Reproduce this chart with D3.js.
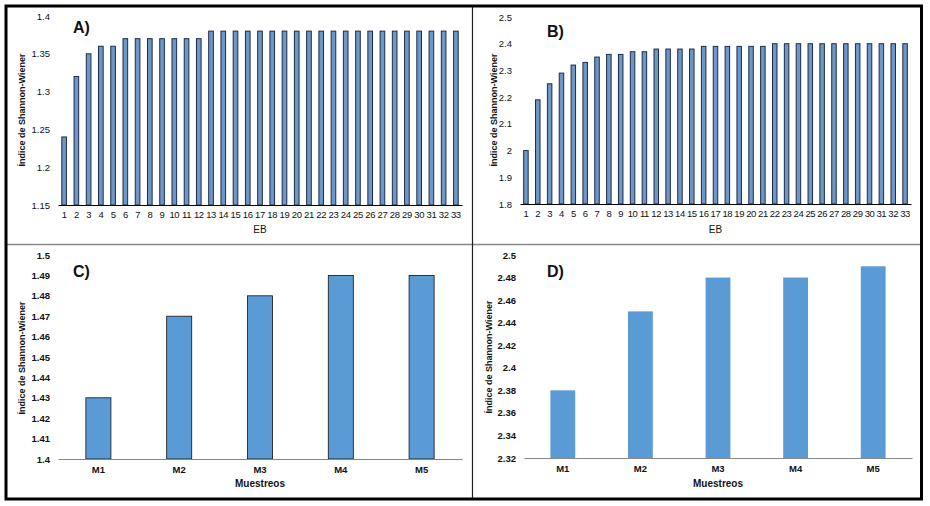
<!DOCTYPE html>
<html>
<head>
<meta charset="utf-8">
<script src="https://cdn.jsdelivr.net/npm/d3@7"></script>
<style>
  body { margin: 0; background: #fff; }
  svg text { font-family: Arial, "Liberation Sans", sans-serif; fill: #111; }
</style>
</head>
<body>
<svg id="drawing_region"></svg>
<script>
// ---- data ----
const ebCategories = d3.range(1, 34).map(String);
const valuesA = [1.24, 1.32, 1.35, 1.36, 1.36, 1.37, 1.37, 1.37, 1.37, 1.37, 1.37, 1.37,
                 1.38, 1.38, 1.38, 1.38, 1.38, 1.38, 1.38, 1.38, 1.38, 1.38, 1.38, 1.38,
                 1.38, 1.38, 1.38, 1.38, 1.38, 1.38, 1.38, 1.38, 1.38];
const valuesB = [2.00, 2.19, 2.25, 2.29, 2.32, 2.33, 2.35, 2.36, 2.36, 2.37, 2.37, 2.38,
                 2.38, 2.38, 2.38, 2.39, 2.39, 2.39, 2.39, 2.39, 2.39, 2.40, 2.40, 2.40,
                 2.40, 2.40, 2.40, 2.40, 2.40, 2.40, 2.40, 2.40, 2.40];
const muestreos = ["M1", "M2", "M3", "M4", "M5"];
const valuesC = [1.43, 1.47, 1.48, 1.49, 1.49];
const valuesD = [2.38, 2.45, 2.48, 2.48, 2.49];

const ticksA = [1.15, 1.2, 1.25, 1.3, 1.35, 1.4];
const ticksB = [1.8, 1.9, 2.0, 2.1, 2.2, 2.3, 2.4, 2.5];
const ticksC = [1.40, 1.41, 1.42, 1.43, 1.44, 1.45, 1.46, 1.47, 1.48, 1.49, 1.50];
const ticksD = [2.32, 2.34, 2.36, 2.38, 2.40, 2.42, 2.44, 2.46, 2.48, 2.50];

const yTitle = "Índice de Shannon-Wiener";

const svg = d3.select('#drawing_region')
    .attr('width', 930)
    .attr('height', 506);

// frame and dividers
svg.append('line').attr('x1', 7).attr('x2', 921).attr('y1', 244.5).attr('y2', 244.5)
    .attr('stroke', '#888').attr('stroke-width', 1.5);
svg.append('line').attr('x1', 472.5).attr('x2', 472.5).attr('y1', 7).attr('y2', 498)
    .attr('stroke', '#222').attr('stroke-width', 1.2);
svg.append('rect').attr('x', 6).attr('y', 6).attr('width', 915.5).attr('height', 493)
    .attr('fill', 'none').attr('stroke', '#000').attr('stroke-width', 3);

function fmt(d) { return String(+d.toFixed(2)); }

function drawPanel(p) {
    const g = svg.append('g');

    const x = d3.scaleBand()
        .domain(p.cats)
        .range([p.left, p.right])
        .padding(0);

    const y = d3.scaleLinear()
        .domain([p.ticks[0], p.ticks[p.ticks.length - 1]])
        .range([p.bottom, p.top]);

    const bw = x.bandwidth() * p.barFrac;

    g.selectAll('rect.bar')
        .data(p.values)
        .enter()
        .append('rect')
        .attr('class', 'bar')
        .attr('x', (d, i) => x(p.cats[i]) + (x.bandwidth() - bw) / 2)
        .attr('y', d => y(d))
        .attr('width', bw)
        .attr('height', d => p.bottom - y(d))
        .attr('fill', p.fill)
        .attr('stroke', p.stroke || 'none')
        .attr('stroke-width', p.strokeWidth || 0);

    // y axis: labels only
    const yAxis = g.append('g')
        .attr('transform', `translate(${p.left},0)`)
        .call(d3.axisLeft(y).tickValues(p.ticks).tickFormat(fmt).tickSize(0).tickPadding(8));
    yAxis.select('.domain').remove();
    yAxis.selectAll('text').style('font-size', p.tickFont).style('font-weight', p.tickWeight);

    // x axis with baseline
    const xAxis = g.append('g')
        .attr('transform', `translate(0,${p.bottom})`)
        .call(d3.axisBottom(x).tickSize(0).tickPadding(p.xPad));
    xAxis.select('.domain').attr('stroke', p.axisColor).attr('stroke-width', 1.2);
    xAxis.selectAll('text').style('font-size', p.tickFont).style('font-weight', p.tickWeight)
        .style('letter-spacing', p.letterSpacing || 0);

    g.append('text')
        .attr('transform', `translate(${p.yTitleX},${p.yTitleY}) rotate(-90)`)
        .attr('text-anchor', 'middle')
        .style('font-size', '9px')
        .style('font-weight', 'bold')
        .text(yTitle);

    g.append('text')
        .attr('x', (p.left + p.right) / 2)
        .attr('y', p.xTitleY)
        .attr('text-anchor', 'middle')
        .style('font-size', '10px')
        .style('font-weight', p.xTitleWeight)
        .text(p.xTitle);

    g.append('text')
        .attr('x', p.letterX)
        .attr('y', p.letterY)
        .style('font-size', '16px')
        .style('font-weight', 'bold')
        .text(p.letter);
}

drawPanel({
    cats: ebCategories, values: valuesA, ticks: ticksA,
    left: 58, right: 462, top: 16, bottom: 205, barFrac: 0.38,
    fill: '#6f97c6', stroke: '#1b2c4a', strokeWidth: 1, axisColor: '#000',
    tickFont: '9.5px', tickWeight: 'normal', letterSpacing: '-0.4px', xPad: 6,
    yTitleX: 25, yTitleY: 110, xTitle: 'EB', xTitleY: 233, xTitleWeight: 'normal',
    letter: 'A)', letterX: 73, letterY: 33
});

drawPanel({
    cats: ebCategories, values: valuesB, ticks: ticksB,
    left: 520, right: 911, top: 17, bottom: 204, barFrac: 0.38,
    fill: '#6f97c6', stroke: '#1b2c4a', strokeWidth: 1, axisColor: '#000',
    tickFont: '9.5px', tickWeight: 'normal', letterSpacing: '-0.4px', xPad: 6,
    yTitleX: 497, yTitleY: 110, xTitle: 'EB', xTitleY: 233, xTitleWeight: 'normal',
    letter: 'B)', letterX: 547, letterY: 37
});

drawPanel({
    cats: muestreos, values: valuesC, ticks: ticksC,
    left: 58, right: 462, top: 255, bottom: 459, barFrac: 0.31,
    fill: '#5b9bd5', stroke: '#111', strokeWidth: 0.8, axisColor: '#888',
    tickFont: '9.5px', tickWeight: 'bold', xPad: 7,
    yTitleX: 25, yTitleY: 358, xTitle: 'Muestreos', xTitleY: 487, xTitleWeight: 'bold',
    letter: 'C)', letterX: 73, letterY: 277
});

drawPanel({
    cats: muestreos, values: valuesD, ticks: ticksD,
    left: 524, right: 912, top: 255, bottom: 458, barFrac: 0.32,
    fill: '#5b9bd5', axisColor: '#888',
    tickFont: '9.5px', tickWeight: 'bold', xPad: 7,
    yTitleX: 492, yTitleY: 357, xTitle: 'Muestreos', xTitleY: 487, xTitleWeight: 'bold',
    letter: 'D)', letterX: 547, letterY: 277
});
</script>
</body>
</html>
